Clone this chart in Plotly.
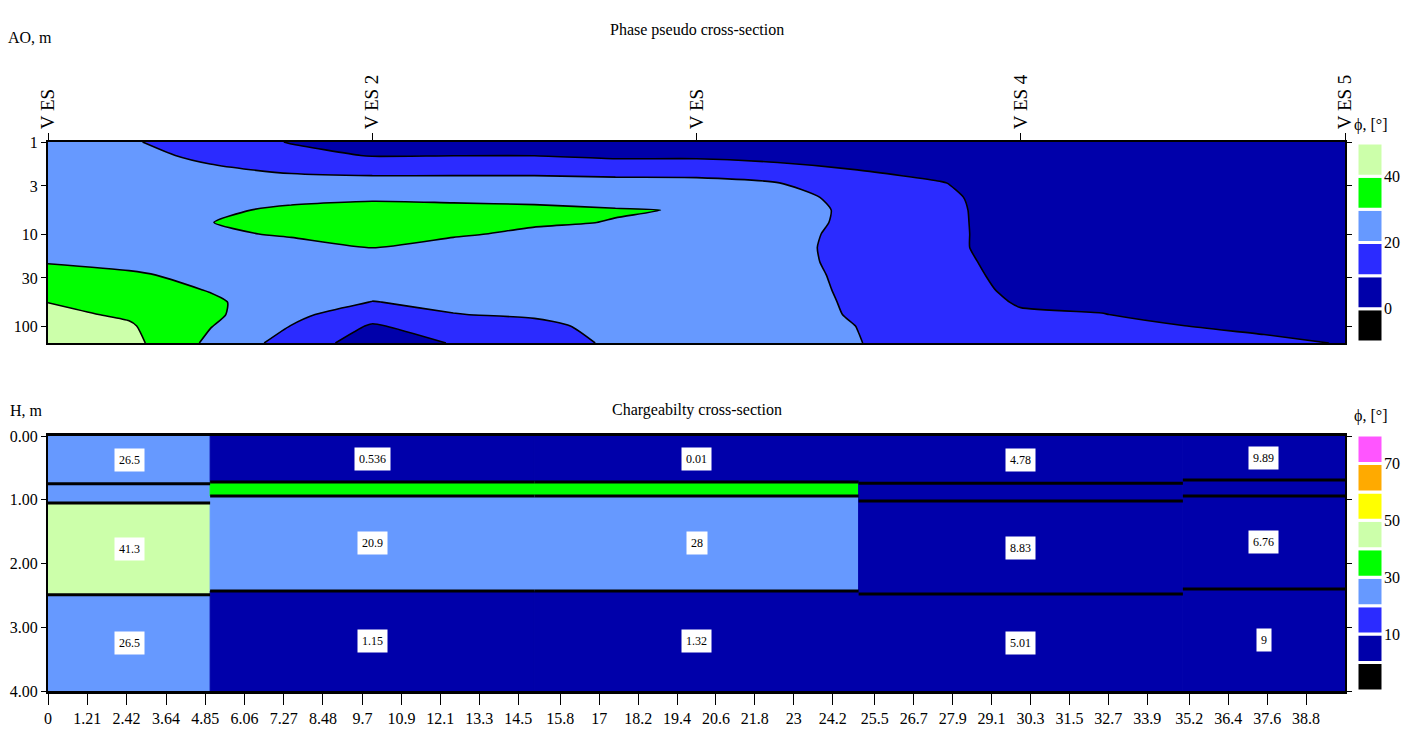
import numpy as np
import plotly.graph_objects as go

FONT = "Liberation Serif"
W, H = 1418, 749

# ---------------- Phase pseudo cross-section (AO vs distance) ----------------
station_x = [0, 2.5, 5, 7.5, 10, 12.5, 15, 17.5, 20, 22.5, 25, 27.5, 30, 32.5, 35, 37.5, 40]
ao_m = [1, 1.4, 2, 2.8, 4, 5.5, 7.5, 10, 14, 20, 28, 40, 55, 75, 100, 153]

# apparent phase, one list per station position (top to bottom along ao_m)
phase_x00_0 = [24, 24, 24, 25, 25, 25, 25, 26, 27, 29.6, 32.3, 36, 39.9, 42, 44, 46]
phase_x02_5 = [21, 22, 23, 24, 25, 25, 25, 25.5, 26, 28, 31, 34, 36.5, 38.8, 41, 43]
phase_x05_0 = [15, 18.5, 21, 24, 26, 28, 29.8, 28.5, 27, 27, 28, 29.5, 31.5, 31.8, 30.4, 28]
phase_x07_5 = [9.5, 13, 19, 22.5, 27, 32, 34, 31, 27, 26, 26, 25.5, 24.5, 22.5, 19.8, 16]
phase_x10_0 = [6, 9.5, 18, 22.5, 28.5, 33.5, 36, 34.5, 30.1, 26, 24, 22.5, 19.8, 14, 9.0, 5]
phase_x12_5 = [6, 9.8, 18, 22.5, 28.5, 32, 33, 31, 27, 25, 24, 23, 21.5, 19.8, 15, 10.5]
phase_x15_0 = [6, 9.8, 18, 22.5, 28, 31.5, 31, 28.5, 26, 25, 24, 23, 22, 21, 18, 14]
phase_x17_5 = [5, 8.5, 15, 24, 27, 30.5, 29.7, 28, 27, 26, 25.5, 25, 24, 23, 22.5, 22]
phase_x20_0 = [4, 8.5, 15, 23.5, 27, 29.6, 28.5, 27, 26.5, 26, 26, 25.5, 25, 24.5, 24, 23]
phase_x22_5 = [3, 7, 13, 20.3, 23.5, 24.5, 25, 25, 25, 25, 25, 25, 25, 25, 25, 25]
phase_x25_0 = [2, 5, 9.9, 14, 16.8, 17.7, 17.1, 15.7, 14.8, 15.4, 16.7, 17.5, 18.2, 18.75, 19.8, 20.3]
phase_x27_5 = [1.5, 3.5, 7, 10.5, 12.5, 13, 13, 13, 13, 13.5, 14, 14.5, 15, 15, 15, 14.3]
phase_x30_0 = [2, 3, 4.5, 5, 4, 4.4, 4.7, 4.9, 4.9, 6.0, 6.9, 7.9, 9.2, 11, 13, 14]
phase_x32_5 = [2, 3, 3.5, 4, 4, 4, 4.5, 4.5, 5, 5.5, 6, 7, 8.5, 10.2, 12.5, 14]
phase_x35_0 = [2, 2.5, 3, 3.5, 3.5, 3.5, 4, 4, 4.5, 4.5, 5, 5.5, 6, 8, 10.1, 13]
phase_x37_5 = [2, 2.5, 3, 3, 3, 3.5, 3.5, 3.5, 4, 4, 4.5, 5, 5.5, 6.5, 8, 12]
phase_x40_0 = [2, 2, 2.5, 2.5, 3, 3, 3, 3.5, 3.5, 3.5, 4, 4.5, 5, 6, 7.5, 9.5]

phase_columns = [phase_x00_0, phase_x02_5, phase_x05_0, phase_x07_5, phase_x10_0,
                 phase_x12_5, phase_x15_0, phase_x17_5, phase_x20_0, phase_x22_5,
                 phase_x25_0, phase_x27_5, phase_x30_0, phase_x32_5, phase_x35_0,
                 phase_x37_5, phase_x40_0]

ao_ticks = [1, 3, 10, 30, 100]

# VES stations along the profile
ves_x = [0, 10, 20, 30, 40]
ves_names = ["V ES", "V ES 2", "V ES", "V ES 4", "V ES 5"]

# ---------------- Layered cross-section ----------------
column_edges = [0, 5, 15, 25, 35, 40]
layer_bottoms = [
    [0.75, 1.05, 2.49, 4.0],
    [0.72, 0.94, 2.43, 4.0],
    [0.72, 0.94, 2.43, 4.0],
    [0.74, 1.02, 2.48, 4.0],
    [0.69, 0.94, 2.40, 4.0],
]
layer_phase = [
    [26.5, 25, 41.3, 26.5],
    [0.536, 35, 20.9, 1.15],
    [0.01, 35, 28, 1.32],
    [4.78, 5, 8.83, 5.01],
    [9.89, 5, 6.76, 9],
]
labelled_layers = [0, 2, 3]

distance_ticks = ["0", "1.21", "2.42", "3.64", "4.85", "6.06", "7.27", "8.48", "9.7",
                  "10.9", "12.1", "13.3", "14.5", "15.8", "17", "18.2", "19.4", "20.6",
                  "21.8", "23", "24.2", "25.5", "26.7", "27.9", "29.1", "30.3", "31.5",
                  "32.7", "33.9", "35.2", "36.4", "37.6", "38.8"]
depth_ticks = ["0.00", "1.00", "2.00", "3.00", "4.00"]

# ---------------- Phase classes (shared legend colours) ----------------
band_edges = [-10, 0, 10, 20, 30, 40, 50, 60, 70, 80]
band_colors = ["#000000", "#0000AA", "#2B2BFF", "#6699FF", "#00FF00",
               "#CCFFAA", "#FFFF00", "#FFAA00", "#FF55FF"]
top_bands = 6            # classes used by the pseudo-section legend
top_legend_ticks = [0, 20, 40]
bottom_legend_ticks = [10, 30, 50, 70]


def px_x(p):
    return p / W


def px_y(p):
    return 1 - p / H


def band_color(v):
    i = int(np.digitize(v, band_edges)) - 1
    return band_colors[max(0, min(i, len(band_colors) - 1))]


fig = go.Figure()

# --- filled contour pseudo-section ---
z = np.array(phase_columns).T
n = top_bands
stepped = []
for i in range(n):
    stepped.append([i / n, band_colors[i]])
    stepped.append([(i + 1) / n, band_colors[i]])
fig.add_trace(go.Contour(
    x=station_x, y=ao_m, z=z,
    xaxis="x", yaxis="y",
    zmin=-5, zmax=45, colorscale=stepped, showscale=False,
    contours=dict(start=0, end=40, size=10, coloring="fill", showlines=True),
    line=dict(color="black", width=1.6, smoothing=0.6),
    hoverinfo="skip",
))

# --- layered section: coloured blocks ---
bx, bw, bbase, bh, bc = [], [], [], [], []
for i, bottoms in enumerate(layer_bottoms):
    left, right = column_edges[i], column_edges[i + 1]
    top = 0.0
    for j, bot in enumerate(bottoms):
        bx.append((left + right) / 2)
        bw.append(right - left)
        bbase.append(top)
        bh.append(bot - top)
        bc.append(band_color(layer_phase[i][j]))
        top = bot
fig.add_trace(go.Bar(
    x=bx, y=bh, base=bbase, width=bw,
    marker=dict(color=bc, line=dict(width=1, color=bc)),
    xaxis="x2", yaxis="y2", hoverinfo="skip",
))

# --- layer boundaries ---
lx, ly = [], []
for i, bottoms in enumerate(layer_bottoms):
    left, right = column_edges[i], column_edges[i + 1]
    for bot in bottoms[:-1]:
        lx += [left, right, None]
        ly += [bot, bot, None]
fig.add_trace(go.Scatter(
    x=lx, y=ly, mode="lines", line=dict(color="black", width=3),
    xaxis="x2", yaxis="y2", hoverinfo="skip",
))

# --- legend boxes ---
for k, (nb, xa, ya) in enumerate([(top_bands, "x3", "y3"), (len(band_colors), "x4", "y4")]):
    fig.add_trace(go.Bar(
        x=[0] * nb,
        y=[band_edges[i + 1] - band_edges[i] for i in range(nb)],
        base=band_edges[:nb],
        width=1,
        marker=dict(color=band_colors[:nb], line=dict(color="white", width=3)),
        xaxis=xa, yaxis=ya, hoverinfo="skip",
    ))

# --- value labels on the layers ---
annotations = []
for i, bottoms in enumerate(layer_bottoms):
    cx = (column_edges[i] + column_edges[i + 1]) / 2
    for j in labelled_layers:
        top = 0.0 if j == 0 else bottoms[j - 1]
        annotations.append(dict(
            x=cx, y=(top + bottoms[j]) / 2, xref="x2", yref="y2",
            text=f"{layer_phase[i][j]:.3g}", showarrow=False,
            bgcolor="white", borderpad=4,
            font=dict(family=FONT, size=12, color="black"),
        ))

txt = dict(family=FONT, size=16, color="black")
annotations += [
    dict(x=px_x(697), y=px_y(30), xref="paper", yref="paper", text="Phase pseudo cross-section",
         showarrow=False, font=txt, xanchor="center", yanchor="middle"),
    dict(x=px_x(6), y=px_y(38), xref="paper", yref="paper", text="AO, m",
         showarrow=False, font=txt, xanchor="left", yanchor="middle"),
    dict(x=px_x(697), y=px_y(410), xref="paper", yref="paper", text="Chargeabilty cross-section",
         showarrow=False, font=txt, xanchor="center", yanchor="middle"),
    dict(x=px_x(8), y=px_y(410), xref="paper", yref="paper", text="H, m",
         showarrow=False, font=txt, xanchor="left", yanchor="middle"),
    dict(x=px_x(1370), y=px_y(125), xref="paper", yref="paper", text="ϕ, [°]",
         showarrow=False, font=txt, xanchor="center", yanchor="middle"),
    dict(x=px_x(1370), y=px_y(416), xref="paper", yref="paper", text="ϕ, [°]",
         showarrow=False, font=txt, xanchor="center", yanchor="middle"),
]

plot_x = [px_x(48), px_x(1345)]
tick_font = dict(family=FONT, size=16, color="black")
frame = dict(showline=True, linecolor="black", showgrid=False, zeroline=False,
             automargin=False)

fig.update_layout(
    width=W, height=H,
    margin=dict(l=0, r=0, t=0, b=0, pad=0, autoexpand=False),
    paper_bgcolor="white", plot_bgcolor="white",
    showlegend=False, barmode="overlay",
    annotations=annotations,
    xaxis=dict(domain=plot_x, range=[0, 40], anchor="y", side="top",
               tickvals=ves_x, ticktext=ves_names, tickangle=-90,
               ticks="outside", ticklen=7, tickcolor="black",
               tickfont=dict(family=FONT, size=19, color="black"),
               mirror=True, linewidth=2, **frame),
    yaxis=dict(domain=[px_y(343), px_y(142)], type="log", range=[np.log10(ao_m[-1]), 0],
               anchor="x", tickvals=ao_ticks, ticktext=[str(t) for t in ao_ticks],
               ticks="outside", ticklen=5, tickcolor="black", tickfont=tick_font,
               mirror="ticks", linewidth=2, **frame),
    xaxis2=dict(domain=plot_x, range=[0, 40], anchor="y2",
                tickvals=[float(t) for t in distance_ticks], ticktext=distance_ticks,
                ticks="outside", ticklen=11, tickcolor="black", tickfont=tick_font,
                mirror=True, linewidth=3, **frame),
    yaxis2=dict(domain=[px_y(691), px_y(436)], range=[4, 0], anchor="x2",
                tickvals=[float(t) for t in depth_ticks], ticktext=depth_ticks,
                ticks="outside", ticklen=5, tickcolor="black", tickfont=tick_font,
                mirror="ticks", linewidth=2, **frame),
    xaxis3=dict(domain=[px_x(1357), px_x(1383)], range=[-0.5, 0.5], anchor="y3",
                visible=False),
    yaxis3=dict(domain=[px_y(342), px_y(143)], range=[band_edges[0], band_edges[top_bands]],
                anchor="x3", side="right", tickvals=top_legend_ticks, automargin=False,
                ticks="", tickfont=tick_font, showgrid=False, zeroline=False, showline=False),
    xaxis4=dict(domain=[px_x(1357), px_x(1383)], range=[-0.5, 0.5], anchor="y4",
                visible=False),
    yaxis4=dict(domain=[px_y(691), px_y(435)], range=[band_edges[0], band_edges[-1]],
                anchor="x4", side="right", tickvals=bottom_legend_ticks, automargin=False,
                ticks="", tickfont=tick_font, showgrid=False, zeroline=False, showline=False),
)

fig.write_html("out.html")
